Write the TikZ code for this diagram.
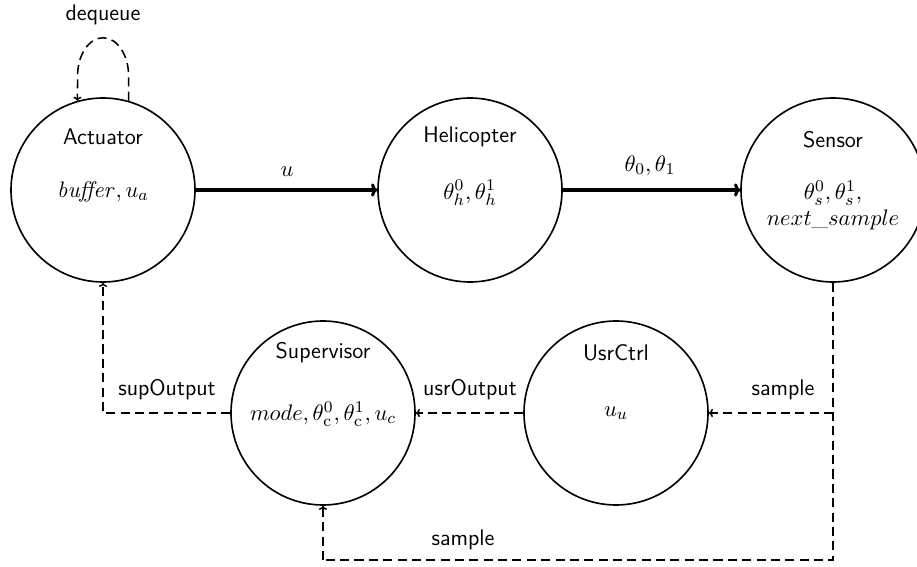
\documentclass[tikz,border=0pt]{standalone}
\usetikzlibrary{arrows.meta}
\begin{document}
\begin{tikzpicture}[x=0.4875pt,y=-0.4875pt,
  every node/.style={font=\fontsize{11}{13}\selectfont},
  proc/.style={circle,draw,line width=0.8pt,minimum size=89.7pt,inner sep=0pt},
  ttl/.style={font=\fontsize{11}{13}\selectfont\sffamily},
  lbl/.style={font=\fontsize{11}{13}\selectfont\sffamily},
  solidarr/.style={line width=1.5pt,-{To[length=3pt,width=6.5pt]}},
  dasharr/.style={line width=0.75pt,dash pattern=on 4.4pt off 2.6pt,-{To[length=2pt,width=4pt]}},
  dashline/.style={line width=0.75pt,dash pattern=on 4.4pt off 2.6pt}]
\useasboundingbox (0,0) rectangle (917,567);
% circles
\node[proc] (act) at (103,190) {};
\node[proc] (hel) at (470,190) {};
\node[proc] (sen) at (833,190) {};
\node[proc] (sup) at (323,413) {};
\node[proc] (usr) at (616,413) {};
% titles and contents
\node[ttl] (actT) at (103,137) {Actuator};
\node (actC) at (103,192) {$\mathit{buffer}, u_a$};
\node[ttl] (helT) at (470,137) {Helicopter};
\node (helC) at (470,193) {$\theta_h^0, \theta_h^1$};
\node[ttl] (senT) at (833,140) {Sensor};
\node (senC1) at (833,193) {$\theta_s^0, \theta_s^1,$};
\node (senC2) at (833,220) {$next\_sample$};
\node[ttl] (supT) at (323,353) {Supervisor};
\node (supC) at (323,414) {$mode, \theta_{\mathrm{c}}^0, \theta_{\mathrm{c}}^1, u_c$};
\node[ttl] (usrT) at (616,353) {UsrCtrl};
\node (usrC) at (616,413) {$u_u$};
% solid arrows
\draw[solidarr] (act.east) -- (hel.west);
\node (lu) at (287,172) {$u$};
\draw[solidarr] (hel.east) -- (sen.west);
\node (lt) at (650,166) {$\theta_0, \theta_1$};
% dequeue loop
\draw[dasharr] (act.74) -- ++(0,-25) arc[start angle=0,end angle=-180,x radius=25.5,y radius=38] -- (act.106);
\node[lbl] (ldq) at (103,15) {dequeue};
% sensor sample paths
\coordinate (br) at (833,560);
\coordinate (bl) at (323,560);
\coordinate (mr) at (833,413);
\draw[dashline] (sen.south) -- (br) -- (bl);
\draw[dasharr] (bl) -- (sup.south);
\draw[dasharr] (mr) -- (usr.east);
\node[lbl] (ls1) at (783,390) {sample};
\node[lbl] (ls2) at (463,540) {sample};
% user output
\draw[dasharr] (usr.west) -- (sup.east);
\node[lbl] (luo) at (470,390) {usrOutput};
% supervisor output
\coordinate (cl) at (103,413);
\draw[dasharr] (sup.west) -- (cl) -- (act.south);
\node[lbl] (lso) at (167,390) {supOutput};
\end{tikzpicture}
\end{document}
